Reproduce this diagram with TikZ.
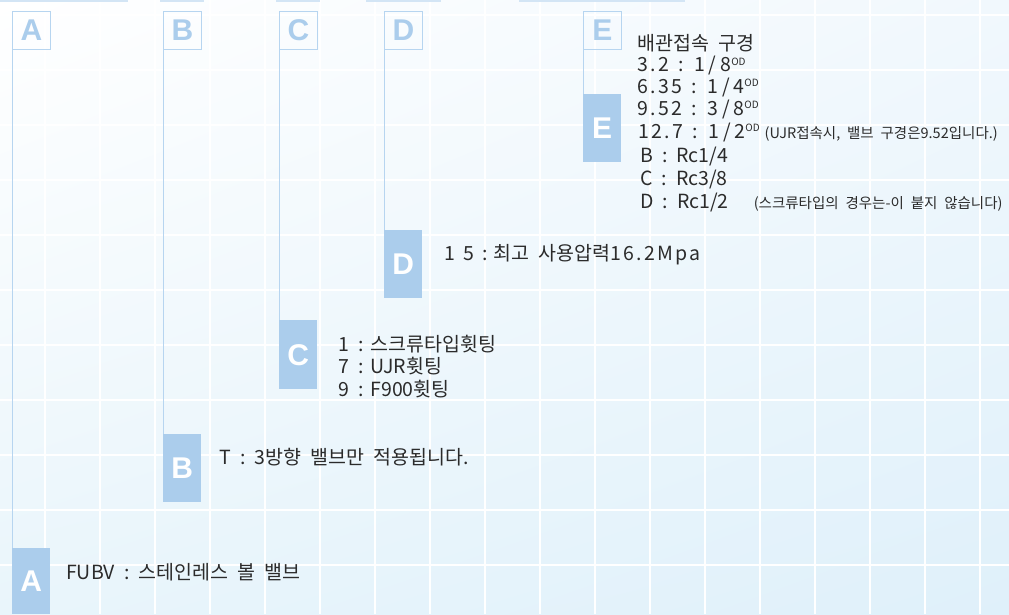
\documentclass[tikz,border=0pt]{standalone}
\usepackage{fontspec}
\usetikzlibrary{shadings}
\setmainfont{Noto Sans CJK KR}[WordSpace=2.1]
\newfontfamily\widefont{Noto Sans CJK KR}[LetterSpace=20]
\newfontfamily\medfont{Noto Sans CJK KR}[LetterSpace=12]
\newfontfamily\letterfont{Liberation Sans Bold}
\definecolor{boxblue}{HTML}{ABCDEC}
\definecolor{lineblue}{HTML}{B7D5F0}
\definecolor{segblue}{HTML}{D3E5F5}
\definecolor{txt}{HTML}{2B2B2B}
\definecolor{bgtl}{HTML}{FFFFFF}
\definecolor{bgtr}{HTML}{F1F8FD}
\definecolor{bgbl}{HTML}{E9F5FB}
\definecolor{bgbr}{HTML}{DFF0FA}
\tikzset{
  topbox/.style={draw=lineblue, line width=0.9pt, minimum width=38pt, minimum height=38pt,
    inner sep=0pt, text=boxblue, font=\letterfont\fontsize{30}{30}\selectfont, anchor=north west},
  fillbox/.style={fill=boxblue, minimum width=38pt, inner sep=0pt, text=white,
    font=\letterfont\fontsize{30}{30}\selectfont, anchor=north west},
  connector/.style={draw=lineblue, line width=0.9pt},
  gridline/.style={draw=white, line width=2.6pt},
  topseg/.style={draw=segblue, line width=1.6pt},
  desc/.style={anchor=base west, inner sep=0pt, text=txt, font=\fontsize{19.5}{19.5}\selectfont}
}
\newcommand{\od}{\raisebox{6.5pt}{\fontsize{10}{10}\selectfont OD}}
\newcommand{\smalltxt}{\fontsize{14.5}{14.5}\selectfont}
\newcommand{\widegrp}[1]{{\widefont #1}}
\newcommand{\medgrp}[1]{{\medfont #1}}
\begin{document}
\begin{tikzpicture}[x=1pt,y=-1pt]
\useasboundingbox (0,0) rectangle (1009,614);
\shade[upper left=bgtl, upper right=bgtr, lower left=bgbl, lower right=bgbr] (0,0) rectangle (1009,614);
\foreach \gx in {45,100,...,990} \draw[gridline] (\gx,0) -- (\gx,614);
\foreach \gy in {15,70,...,600} \draw[gridline] (0,\gy) -- (1009,\gy);
% top segments
\draw[topseg] (0,0.8) -- (128,0.8);
\draw[topseg] (160,0.8) -- (204,0.8);
\draw[topseg] (276,0.8) -- (320,0.8);
\draw[topseg] (366,0.8) -- (441,0.8);
\draw[topseg] (519,0.8) -- (685,0.8);
% top boxes
\node[topbox] (tA) at (12,11) {A};
\node[topbox] (tB) at (163,11) {B};
\node[topbox] (tC) at (279,11) {C};
\node[topbox] (tD) at (384,11) {D};
\node[topbox] (tE) at (583,11) {E};
% filled boxes
\node[fillbox, minimum height=66pt] (fA) at (12,548) {A};
\node[fillbox, minimum height=68pt] (fB) at (163,434) {B};
\node[fillbox, minimum height=69pt] (fC) at (279,320) {C};
\node[fillbox, minimum height=68pt] (fD) at (384,230) {D};
\node[fillbox, minimum height=68pt] (fE) at (583,94) {E};
% connectors
\draw[connector] (tA.south west) -- (fA.north west);
\draw[connector] (tB.south west) -- (fB.north west);
\draw[connector] (tC.south west) -- (fC.north west);
\draw[connector] (tD.south west) -- (fD.north west);
\draw[connector] (tE.south west) -- (fE.north west);
% E texts
\node[desc] (e0) at (637,50) {배관접속 구경};
\node[desc] (e1) at (637,71.5) {\medgrp{3.2} : \widegrp{1/8}\od};
\node[desc] (e2) at (637,93) {\medgrp{6.35} : \widegrp{1/4}\od};
\node[desc] (e3) at (637,115) {\medgrp{9.52} : \widegrp{3/8}\od};
\node[desc] (e4) at (638,138) {\medgrp{12.7} : \widegrp{1/2}\od\hspace{5pt}{\smalltxt(UJR접속시, 밸브 구경은9.52입니다.)}};
\node[desc] (e5) at (640,162) {B : Rc1/4};
\node[desc] (e6) at (640,185) {C : Rc3/8};
\node[desc] (e7) at (640,208) {D : Rc1/2\hspace{25pt}{\smalltxt(스크류타입의 경우는-이 붙지 않습니다)}};
% D text
\node[desc] (d1) at (444,260) {1\hspace{8pt}5\hspace{9pt}:\hspace{5pt}최고 사용압력\medgrp{16.2Mpa}};
% C texts
\node[desc] (c1) at (338,351) {1\hspace{9pt}:\hspace{7pt}스크류타입휫팅};
\node[desc] (c2) at (338,373) {7\hspace{9pt}:\hspace{7pt}UJR휫팅};
\node[desc] (c3) at (338,396) {9\hspace{9pt}:\hspace{7pt}F900휫팅};
% B text
\node[desc] (b1) at (219,464) {T : 3방향 밸브만 적용됩니다.};
% A text
\node[desc] (a1) at (66,579) {FUBV : 스테인레스 볼 밸브};
\end{tikzpicture}
\end{document}
